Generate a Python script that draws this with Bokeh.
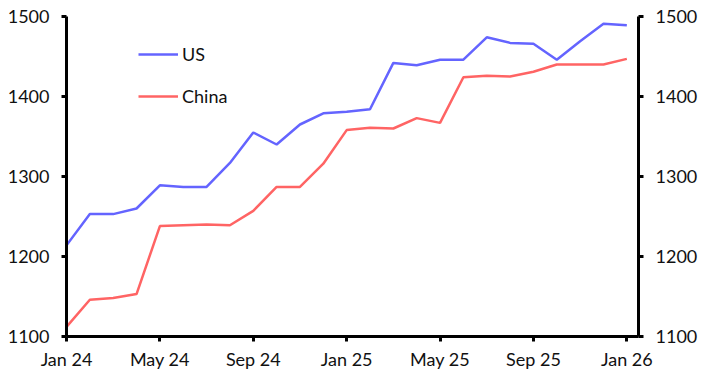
from bokeh.plotting import figure
from bokeh.models import Range1d, LinearAxis, FixedTicker, Legend, LegendItem
from bokeh.embed import file_html
from bokeh.resources import INLINE

months = list(range(25))
tick_labels = {0: "Jan 24", 4: "May 24", 8: "Sep 24", 12: "Jan 25",
               16: "May 25", 20: "Sep 25", 24: "Jan 26"}
us = [1214, 1253, 1253, 1260, 1289, 1287, 1287, 1317, 1355, 1340, 1365, 1379,
      1381, 1384, 1442, 1439, 1446, 1446, 1474, 1467, 1466, 1446, 1469, 1491, 1489]
china = [1112, 1146, 1148, 1153, 1238, 1239, 1240, 1239, 1257, 1287, 1287, 1316,
         1358, 1361, 1360, 1373, 1367, 1424, 1426, 1425, 1431, 1440, 1440, 1440, 1447]

FONT = "Lato"
FS = "18px"

p = figure(width=700, height=372, output_backend="svg", toolbar_location=None,
           x_range=Range1d(0, 24.5), y_range=Range1d(1100, 1500),
           min_border_left=66, min_border_right=61, min_border_top=16, min_border_bottom=36)
p.outline_line_color = None
p.grid.visible = False
p.background_fill_color = "white"

r_us = p.line(months, us, line_color="#6464ff", line_width=2.5)
r_cn = p.line(months, china, line_color="#ff6464", line_width=2.5)

def style(ax):
    ax.axis_line_width = 3
    ax.axis_line_color = "black"
    ax.major_tick_line_width = 3
    ax.major_tick_in = 0
    ax.major_tick_out = 5
    ax.minor_tick_line_color = None
    ax.major_label_text_font = FONT
    ax.major_label_text_font_size = FS
    ax.major_label_text_color = "#111111"

p.yaxis.ticker = FixedTicker(ticks=[1100, 1200, 1300, 1400, 1500])
style(p.yaxis[0])
p.yaxis.major_label_standoff = 12

ry = LinearAxis(ticker=FixedTicker(ticks=[1100, 1200, 1300, 1400, 1500]))
style(ry)
ry.major_label_standoff = 12
p.add_layout(ry, "right")

p.xaxis.ticker = FixedTicker(ticks=sorted(tick_labels.keys()))
p.xaxis.major_label_overrides = tick_labels
style(p.xaxis[0])
p.xaxis.major_label_standoff = 6

legend = Legend(items=[LegendItem(label="US", renderers=[r_us]),
                       LegendItem(label="China", renderers=[r_cn])],
                location=(72, 229), orientation="vertical")
legend.border_line_color = None
legend.background_fill_alpha = 0
legend.padding = 0
legend.margin = 0
legend.glyph_width = 40
legend.glyph_height = 20
legend.label_height = 20
legend.spacing = 20
legend.label_standoff = 4
legend.label_text_font = FONT
legend.label_text_font_size = FS
legend.label_text_color = "#111111"
p.add_layout(legend, "center")

open("out.html", "w").write(file_html(p, INLINE))
